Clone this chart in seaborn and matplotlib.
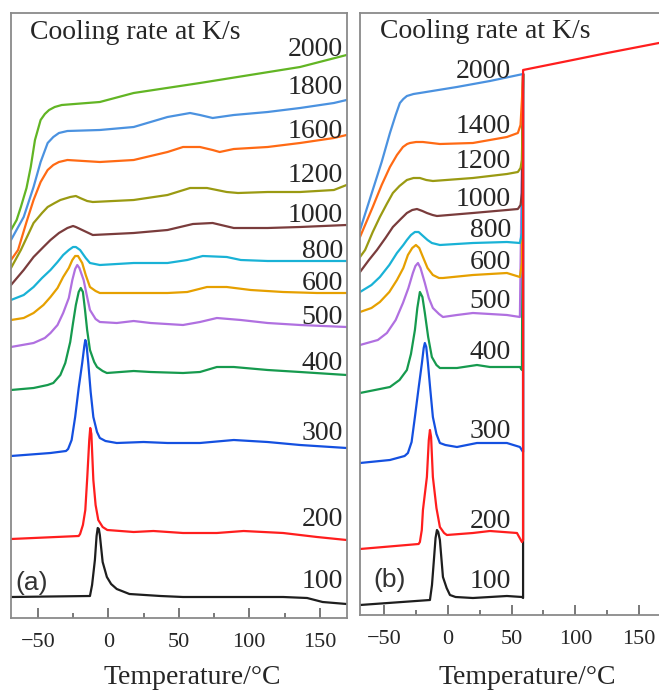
import matplotlib
matplotlib.use("Agg")
import matplotlib.pyplot as plt
import seaborn as sns
from matplotlib.ticker import MultipleLocator

# ---------------- data: panel (a) ----------------
T_a2000 = [-69, -65, -62, -58, -55, -52, -48, -45, -42, -38, -33, -6, 18, 65, 136, 169]
H_a2000 = [390, 400, 413, 432, 453, 480, 500, 506, 510, 513, 515, 518, 527, 537, 553, 565]
T_a1800 = [-69, -60, -53, -48, -43, -39, -35, -29, -6, 18, 42, 58, 65, 74, 79, 89, 113, 136, 160, 169]
H_a1800 = [380, 403, 433, 458, 477, 483, 487, 489, 490, 493, 503, 507, 505, 502, 503, 505, 508, 512, 517, 520]
T_a1600 = [-69, -64, -58, -53, -48, -43, -39, -35, -29, -6, 18, 42, 53, 65, 74, 79, 89, 113, 136, 160, 169]
H_a1600 = [360, 370, 398, 420, 438, 450, 455, 458, 460, 458, 460, 468, 473, 473, 470, 468, 471, 473, 477, 482, 485]
T_a1200 = [-69, -62, -53, -47, -43, -38, -34, -27, -23, -20, -15, -11, 18, 42, 58, 70, 84, 92, 113, 136, 160, 169]
H_a1200 = [352, 370, 397, 407, 413, 417, 420, 423, 424, 422, 419, 418, 420, 425, 432, 432, 428, 427, 428, 428, 430, 435]
T_a1000 = [-69, -60, -53, -46, -41, -35, -29, -25, -23, -20, -17, -11, 18, 42, 60, 74, 89, 113, 136, 169]
H_a1000 = [335, 350, 363, 373, 380, 387, 392, 394, 393, 391, 389, 385, 387, 390, 396, 397, 392, 392, 393, 395]
T_a800 = [-69, -60, -53, -47, -41, -36, -32, -28, -25, -23, -20, -16, -13, -6, 18, 42, 56, 67, 84, 94, 113, 136, 169]
H_a800 = [320, 325, 333, 342, 350, 358, 365, 370, 373, 373, 370, 362, 357, 355, 357, 357, 360, 364, 363, 360, 359, 359, 359]
T_a600 = [-69, -60, -53, -46, -41, -36, -32, -28, -25.5, -23.5, -21.5, -18.5, -16, -13, -9, -6, 18, 42, 56, 70, 84, 101, 124, 148, 169]
H_a600 = [300, 302, 307, 315, 323, 332, 343, 352, 360, 364, 364, 357, 345, 333, 329, 327, 327, 327, 328, 333, 333, 330, 328, 327, 327]
T_a500 = [-69, -53, -45, -41, -36, -32, -28, -25.5, -23.5, -22, -20.5, -17.5, -15, -13, -9, -6, 6, 18, 30, 53, 65, 77, 94, 113, 136, 169]
H_a500 = [273, 277, 282, 287, 295, 307, 322, 340, 351, 355, 352, 340, 323, 310, 301, 298, 297, 299, 297, 295, 298, 302, 300, 297, 295, 293]
T_a400 = [-69, -53, -43, -39, -34, -30.5, -27, -25, -23, -21, -19.5, -18, -16.5, -15, -13, -10, -8, -4, -1, 18, 30, 53, 65, 77, 89, 113, 136, 169]
H_a400 = [230, 232, 235, 237, 245, 257, 278, 297, 315, 328, 332, 328, 310, 290, 270, 258, 253, 249, 247, 249, 248, 247, 248, 253, 253, 250, 248, 245]
T_a300 = [-69, -41, -30, -28.5, -26, -23.5, -21, -18.5, -17, -16.3, -15.5, -14.2, -12.5, -10.6, -8, -6, -2, 6, 25, 42, 65, 89, 113, 136, 169]
H_a300 = [164, 167, 169, 171, 180, 203, 232, 257, 274, 280, 276, 257, 228, 203, 188, 182, 179, 177, 178, 177, 177, 180, 178, 175, 172]
T_a200 = [-69, -21, -20, -18, -16.3, -14.9, -13.5, -12.8, -12, -10.6, -9, -7.1, -4, -0.7, 18, 32, 53, 77, 96, 124, 148, 169]
H_a200 = [81, 84, 86, 95, 110, 143, 180, 192, 186, 140, 115, 100, 93, 90, 88, 89, 87, 87, 89, 87, 83, 80]
T_a100 = [-69, -13, -11.5, -9.5, -8.3, -7.5, -6.7, -6, -4, -1, 2, 6, 15, 37, 53, 89, 124, 141, 152, 169]
H_a100 = [23, 24, 35, 60, 84, 92, 91, 85, 58, 43, 36, 31, 26, 24, 23, 23, 23, 22, 18, 16]

# ---------------- data: panel (b) ----------------
T_b2000 = [-69, -64, -59, -52, -45.5, -41, -37.7, -35, -32.2, -27, -22, 7, 33, 59]
H_b2000 = [390, 410, 430, 458, 487, 505, 517, 521, 524, 526, 527, 533, 539, 546]
T_b1400 = [-69, -59, -52, -45.5, -40, -35.3, -32, -29.8, -25, -19.6, -6.3, 19.6, 46.3, 54.9, 57, 58.1, 59]
H_b1400 = [383, 413, 435, 453, 465, 473, 476, 477, 478, 478, 476, 477, 483, 487, 495, 520, 546]
T_b1200 = [-69, -65, -59, -53.4, -48, -43.2, -38, -32.2, -27, -22, -17, -11.8, 19.6, 46.3, 54.9, 57, 58.1, 59]
H_b1200 = [363, 370, 388, 403, 416, 427, 434, 440, 442, 442, 440, 439, 442, 446, 448, 452, 460, 546]
T_b1000 = [-69, -62, -55.7, -49, -43.2, -37, -32.2, -28, -24.3, -20, -16.5, -12, -8.6, 19.6, 46.3, 54.9, 57, 58.1, 59]
H_b1000 = [348, 360, 370, 382, 393, 401, 407, 410, 411, 409, 407, 405, 404, 407, 410, 411, 415, 427, 546]
T_b800 = [-69, -60, -53.4, -46, -40, -35, -32.2, -29, -25.9, -23, -20.4, -16, -12.6, -6.3, 19.6, 46.3, 56.5, 58.1, 59]
H_b800 = [328, 335, 343, 355, 367, 375, 380, 385, 388, 388, 385, 380, 377, 375, 377, 378, 377, 387, 546]
T_b600 = [-69, -60, -53.4, -46, -40, -35, -31.4, -28, -25.1, -22.5, -19.6, -16, -11.8, -7, -3.9, 19.6, 46.3, 56.5, 58.1, 59]
H_b600 = [308, 312, 318, 328, 340, 352, 365, 372, 375, 372, 363, 352, 345, 342, 342, 345, 347, 343, 357, 546]
T_b500 = [-69, -55, -47.9, -41, -35.3, -31, -27.5, -25.5, -23.5, -21.5, -18.1, -15, -11.8, -7, -3.9, 7.1, 19.6, 46.3, 56.5, 59]
H_b500 = [275, 280, 287, 300, 317, 332, 347, 354, 357, 352, 337, 322, 312, 306, 303, 305, 307, 305, 303, 546]
T_b400 = [-69, -45.5, -38, -32.2, -29, -25.9, -24, -22, -20, -18.1, -15.5, -12.6, -9, -6.3, 7.1, 22.8, 33, 56.5, 58.1, 59]
H_b400 = [227, 233, 240, 250, 266, 290, 312, 328, 323, 307, 283, 263, 255, 252, 252, 255, 253, 253, 250, 546]
T_b300 = [-69, -45.5, -34, -31.4, -28.5, -25.9, -23, -20.4, -19, -18.1, -17, -15.7, -13.8, -11.8, -9, -6.3, -2, 7.1, 22.8, 46.3, 56.5, 59, 59]
H_b300 = [157, 160, 164, 167, 178, 203, 232, 257, 272, 277, 273, 257, 230, 203, 186, 177, 175, 173, 177, 177, 173, 168, 546]
T_b200 = [-69, -23, -22, -20.5, -19.6, -16.5, -15, -14.1, -13.2, -11.8, -9, -6.3, -3, -0.8, 19.6, 33, 54.2, 58.1, 59, 59, 98, 125, 165.6, 170]
H_b200 = [71, 76, 78, 90, 110, 143, 180, 190, 183, 143, 112, 93, 87, 85, 87, 89, 87, 78, 80, 550, 560, 567, 577, 578]
T_b100 = [-69, -14.1, -12.5, -11, -9.7, -8.6, -7.6, -6.3, -3.9, -1, 1.6, 6, 19.6, 33, 46.3, 58.1, 59, 59]
H_b100 = [15, 20, 35, 60, 82, 90, 88, 80, 43, 32, 25, 23, 22, 23, 24, 23, 22, 546]

# labels
rates_a = ["2000", "1800", "1600", "1200", "1000", "800", "600", "500", "400", "300", "200", "100"]
label_y_a = [571, 532, 488, 444, 404, 369, 337, 303, 256, 186, 101, 38]
rates_b = ["2000", "1400", "1200", "1000", "800", "600", "500", "400", "300", "200", "100"]
label_y_b = [548, 493, 458, 420, 389, 357, 318, 267, 189, 98, 38]

xticks = [-50, 0, 50, 100, 150]

C = {
    "2000g": "#62b524", "1800": "#4b92e0", "1600": "#ff6a14", "1400": "#ff6a14",
    "1200": "#9a9a12", "1000": "#7a3c3c", "800": "#19b2d6", "600": "#e6a000",
    "500": "#b070e0", "400": "#169a4e", "300": "#1450e0", "200": "#ff1e1e",
    "100": "#1e1e1e", "2000b": "#4b92e0",
}

series_a = [
    (T_a100, H_a100, C["100"]), (T_a200, H_a200, C["200"]), (T_a300, H_a300, C["300"]),
    (T_a400, H_a400, C["400"]), (T_a500, H_a500, C["500"]), (T_a600, H_a600, C["600"]),
    (T_a800, H_a800, C["800"]), (T_a1000, H_a1000, C["1000"]), (T_a1200, H_a1200, C["1200"]),
    (T_a1600, H_a1600, C["1600"]), (T_a1800, H_a1800, C["1800"]), (T_a2000, H_a2000, C["2000g"]),
]
series_b = [
    (T_b100, H_b100, C["100"]), (T_b300, H_b300, C["300"]),
    (T_b400, H_b400, C["400"]), (T_b500, H_b500, C["500"]), (T_b600, H_b600, C["600"]),
    (T_b800, H_b800, C["800"]), (T_b1000, H_b1000, C["1000"]), (T_b1200, H_b1200, C["1200"]),
    (T_b1400, H_b1400, C["1400"]), (T_b2000, H_b2000, C["2000b"]), (T_b200, H_b200, C["200"]),
]

sns.set_style("white")
plt.rcParams["font.family"] = ["Liberation Serif", "DejaVu Serif"]
plt.rcParams["axes.unicode_minus"] = True

fig = plt.figure(figsize=(6.59, 6.91), dpi=100)
axA = fig.add_axes([11 / 659, 73 / 691, 336 / 659, 605 / 691])
axB = fig.add_axes([360 / 659, 76 / 691, 304.5 / 659, 602 / 691])

for ax, series in ((axA, series_a), (axB, series_b)):
    for T, H, col in series:
        sns.lineplot(x=T, y=H, sort=False, estimator=None, color=col,
                     linewidth=1.6, ax=ax)

axA.set_xlim(-69, 169.3)
axA.set_ylim(2, 607)
axB.set_xlim(-69, 170)
axB.set_ylim(5, 607)

for ax in (axA, axB):
    ax.set_yticks([])
    ax.set_ylabel("")
    ax.xaxis.set_major_locator(MultipleLocator(50))
    ax.xaxis.set_minor_locator(MultipleLocator(25))
    ax.set_xticks(xticks)
    ax.tick_params(axis="x", which="major", direction="in", length=7, width=1.1,
                   color="#555555", labelsize=16, pad=11, bottom=True, top=False)
    ax.tick_params(axis="x", which="minor", direction="in", length=3.5, width=1.1,
                   color="#555555", bottom=True, top=False)
    for s in ax.spines.values():
        s.set_color("#8a8a8a")
        s.set_linewidth(1.3)
    ax.set_xlabel("Temperature/°C", fontsize=20)
    ax.xaxis.label.set_verticalalignment("center")

axA.xaxis.set_label_coords(0.54, -0.098)
axB.xaxis.set_label_coords(0.55, -0.103)

for txt, y in zip(rates_a, label_y_a):
    axA.text(166.5, y, txt, ha="right", va="center", fontsize=20)
for txt, y in zip(rates_b, label_y_b):
    axB.text(49.5, y, txt, ha="right", va="center", fontsize=20)

axA.text(0.057, 0.967, "Cooling rate at K/s", transform=axA.transAxes,
         ha="left", va="center", fontsize=20)
axB.text(0.066, 0.969, "Cooling rate at K/s", transform=axB.transAxes,
         ha="left", va="center", fontsize=20)
axA.text(0.012, 0.058, "(a)", transform=axA.transAxes, ha="left", va="center",
         fontsize=19, family=["Liberation Sans", "DejaVu Sans"], color="#333333")
axB.text(0.043, 0.058, "(b)", transform=axB.transAxes, ha="left", va="center",
         fontsize=19, family=["Liberation Sans", "DejaVu Sans"], color="#333333")

fig.savefig("out.png", dpi=100)
